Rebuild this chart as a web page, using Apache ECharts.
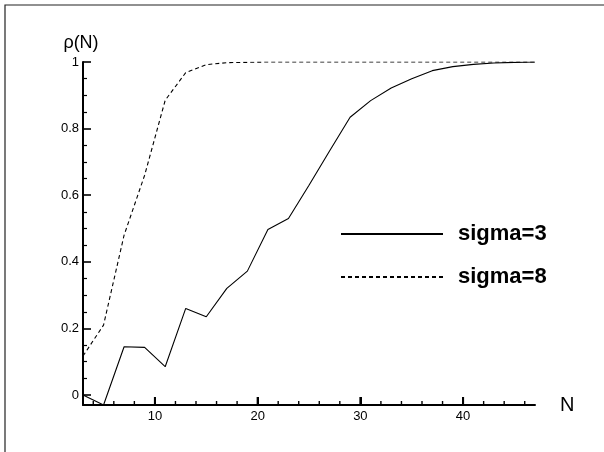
<!DOCTYPE html>
<html>
<head>
<meta charset="utf-8">
<script src="https://cdn.jsdelivr.net/npm/echarts@6/dist/echarts.min.js"></script>
<style>
  html, body { margin: 0; padding: 0; background: #fff; }
  #chart { width: 604px; height: 452px; }
</style>
</head>
<body>
<div id="chart"></div>
<script>
// Sample sizes N (odd values)
const nValues = [3, 5, 7, 9, 11, 13, 15, 17, 19, 21, 23, 25, 27, 29, 31, 33, 35, 37, 39, 41, 43, 45, 47];
// rho(N) for sigma = 3
const sigma3 = [0.0, -0.03, 0.145, 0.143, 0.085, 0.26, 0.235, 0.32, 0.372, 0.497, 0.53, 0.63, 0.733, 0.834,
                0.884, 0.922, 0.95, 0.974, 0.986, 0.993, 0.997, 0.999, 1.0];
// rho(N) for sigma = 8
const sigma8 = [0.117, 0.21, 0.48, 0.66, 0.885, 0.968, 0.992, 0.998, 0.999, 1.0, 1.0, 1.0, 1.0, 1.0,
                1.0, 1.0, 1.0, 1.0, 1.0, 1.0, 1.0, 1.0, 1.0];

// Axis ticks and labels
const xMajorTicks = [10, 20, 30, 40];
const xMinorTicks = [4, 6, 8, 12, 14, 16, 18, 22, 24, 26, 28, 32, 34, 36, 38, 42, 44, 46];
const yMajorTicks = [0, 0.2, 0.4, 0.6, 0.8, 1];
const yMinorTicks = [0.05, 0.1, 0.15, 0.25, 0.3, 0.35, 0.45, 0.5, 0.55, 0.65, 0.7, 0.75, 0.85, 0.9, 0.95];

const X_MIN = 3, X_MAX = 47, Y_MIN = -0.03, Y_MAX = 1;
const FONT = 'Liberation Sans, Arial, sans-serif';

const pair = (ys) => nValues.map((n, i) => [n, ys[i]]);

// Inward tick marks along the bottom axis: [value, isMajor]
const xTickData = xMajorTicks.map(v => [v, 1]).concat(xMinorTicks.map(v => [v, 0]));

const chart = echarts.init(document.getElementById('chart'), null, { renderer: 'canvas' });

chart.setOption({
  animation: false,
  backgroundColor: '#fff',
  grid: { left: 83, right: 69, top: 62, bottom: 47 },
  graphic: [{
    type: 'rect',
    shape: { x: 5, y: 5, width: 700, height: 600 },
    style: { fill: 'none', stroke: '#222', lineWidth: 1.2 },
    silent: true
  }],
  xAxis: [{
    type: 'value', min: X_MIN, max: X_MAX,
    name: 'N', nameLocation: 'end', nameGap: 25,
    nameTextStyle: { fontSize: 20, fontFamily: FONT, color: '#000', padding: [10, 0, 0, 0] },
    axisLine: { show: true, onZero: false, lineStyle: { color: '#000', width: 2 } },
    axisTick: { show: true, inside: true, length: 8, customValues: xMajorTicks, lineStyle: { color: '#000', width: 2 } },
    axisLabel: { show: true, customValues: xMajorTicks, margin: 5, fontSize: 13, fontFamily: FONT, color: '#000' },
    splitLine: { show: false }
  }],
  yAxis: [{
    type: 'value', min: Y_MIN, max: Y_MAX,
    name: 'ρ(N)', nameLocation: 'end', nameGap: 10,
    nameTextStyle: { fontSize: 18, fontFamily: FONT, color: '#000', padding: [0, 4, 0, 0] },
    axisLine: { show: true, onZero: false, lineStyle: { color: '#000', width: 2 } },
    axisTick: { show: true, inside: true, length: 8, customValues: yMajorTicks, lineStyle: { color: '#000', width: 1.6 } },
    axisLabel: { show: true, customValues: yMajorTicks, margin: 4, fontSize: 13, fontFamily: FONT, color: '#000' },
    splitLine: { show: false }
  }, {
    type: 'value', min: Y_MIN, max: Y_MAX, position: 'left',
    axisLine: { show: false, onZero: false },
    axisTick: { show: true, inside: true, length: 4, customValues: yMinorTicks, lineStyle: { color: '#000', width: 1.2 } },
    axisLabel: { show: false },
    splitLine: { show: false }
  }],
  legend: {
    orient: 'vertical',
    left: 335, top: 218,
    itemWidth: 102, itemHeight: 20, itemGap: 21,
    itemStyle: { color: 'transparent', borderColor: 'transparent', borderWidth: 0 },
    textStyle: { fontSize: 22, fontWeight: 'bold', fontFamily: FONT, color: '#000', padding: [0, 0, 0, 10] },
    data: ['sigma=3', 'sigma=8']
  },
  series: [{
    name: 'sigma=3', type: 'line', xAxisIndex: 0, yAxisIndex: 0,
    data: pair(sigma3), symbol: 'none', clip: true,
    lineStyle: { color: '#000', width: 1.1, type: 'solid' },
    itemStyle: { color: '#000' }
  }, {
    name: 'sigma=8', type: 'line', xAxisIndex: 0, yAxisIndex: 0,
    data: pair(sigma8), symbol: 'none', clip: true,
    lineStyle: { color: '#000', width: 1.1, type: [4, 3] },
    itemStyle: { color: '#000' }
  }, {
    // tick marks on the N axis, placed through the x scale, on their own top layer
    type: 'custom', xAxisIndex: 0, yAxisIndex: 0, silent: true, clip: false,
    zlevel: 1, z: 10,
    data: xTickData,
    encode: { x: 0, y: 1 },
    renderItem: function (params, api) {
      const p = api.coord([api.value(0), Y_MIN]);
      const major = api.value(1) === 1;
      return {
        type: 'line',
        shape: { x1: p[0], y1: p[1], x2: p[0], y2: p[1] - (major ? 8 : 4) },
        style: { stroke: '#000', lineWidth: major ? 2 : 1.4 }
      };
    }
  }]
});
</script>
</body>
</html>
